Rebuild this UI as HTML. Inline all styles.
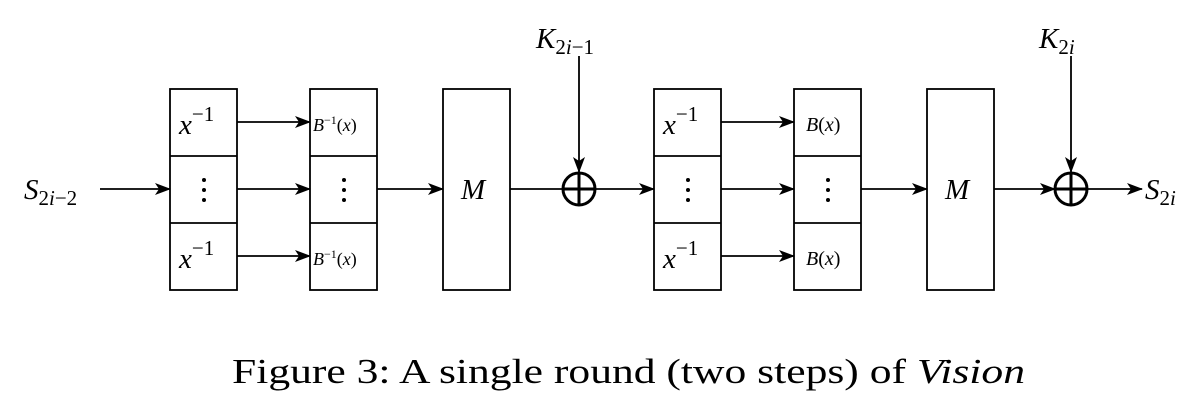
<!DOCTYPE html>
<html><head><style>
body{margin:0;background:#fff;width:1202px;height:414px;overflow:hidden}
</style></head><body>
<svg width="1202" height="414" viewBox="0 0 1202 414" xmlns="http://www.w3.org/2000/svg" font-family="'Liberation Serif', serif">
<defs><marker id="a" markerWidth="16" markerHeight="12" refX="15" refY="6" orient="auto" markerUnits="userSpaceOnUse"><path d="M0,0 L16,6 L0,12 L4,6 Z" fill="#000"/></marker></defs>
<g fill="none" stroke="#000" stroke-width="1.8">
<rect x="170" y="89" width="67" height="201"/><line x1="170" y1="156" x2="237" y2="156"/><line x1="170" y1="223" x2="237" y2="223"/>
<rect x="310" y="89" width="67" height="201"/><line x1="310" y1="156" x2="377" y2="156"/><line x1="310" y1="223" x2="377" y2="223"/>
<rect x="443" y="89" width="67" height="201"/>
<rect x="654" y="89" width="67" height="201"/><line x1="654" y1="156" x2="721" y2="156"/><line x1="654" y1="223" x2="721" y2="223"/>
<rect x="794" y="89" width="67" height="201"/><line x1="794" y1="156" x2="861" y2="156"/><line x1="794" y1="223" x2="861" y2="223"/>
<rect x="927" y="89" width="67" height="201"/>
<line x1="100" y1="189" x2="170" y2="189" marker-end="url(#a)"/>
<line x1="237" y1="122" x2="310" y2="122" marker-end="url(#a)"/>
<line x1="237" y1="189" x2="310" y2="189" marker-end="url(#a)"/>
<line x1="237" y1="256" x2="310" y2="256" marker-end="url(#a)"/>
<line x1="377" y1="189" x2="443" y2="189" marker-end="url(#a)"/>
<line x1="510" y1="189" x2="654" y2="189" marker-end="url(#a)"/>
<line x1="721" y1="122" x2="794" y2="122" marker-end="url(#a)"/>
<line x1="721" y1="189" x2="794" y2="189" marker-end="url(#a)"/>
<line x1="721" y1="256" x2="794" y2="256" marker-end="url(#a)"/>
<line x1="861" y1="189" x2="927" y2="189" marker-end="url(#a)"/>
<line x1="994" y1="189" x2="1055" y2="189" marker-end="url(#a)"/>
<line x1="1071" y1="189" x2="1142" y2="189" marker-end="url(#a)"/>
<line x1="579" y1="56" x2="579" y2="172" marker-end="url(#a)"/>
<line x1="1071" y1="56" x2="1071" y2="172" marker-end="url(#a)"/>
</g>
<g fill="none" stroke="#000" stroke-width="3">
<circle cx="579" cy="189" r="16" fill="#fff"/><line x1="563" y1="189" x2="595" y2="189"/><line x1="579" y1="173" x2="579" y2="205"/>
<circle cx="1071" cy="189" r="16" fill="#fff"/><line x1="1055" y1="189" x2="1087" y2="189"/><line x1="1071" y1="173" x2="1071" y2="205"/>
</g>
<g font-size="29" font-style="italic" font-family="'Liberation Serif', serif">
<text x="24" y="199">S<tspan font-size="21" font-style="normal" dy="6">2<tspan font-style="italic">i</tspan>−2</tspan></text>
<text x="536" y="48">K<tspan font-size="21" font-style="normal" dy="6">2<tspan font-style="italic">i</tspan>−1</tspan></text>
<text x="1039" y="48">K<tspan font-size="21" font-style="normal" dy="6">2<tspan font-style="italic">i</tspan></tspan></text>
<text x="1145" y="199">S<tspan font-size="21" font-style="normal" dy="6">2<tspan font-style="italic">i</tspan></tspan></text>
<text x="461" y="199">M</text><text x="945" y="199">M</text>
</g>
<g font-size="29" font-family="'Liberation Serif', serif">
<text x="179" y="134" font-style="italic">x<tspan font-style="normal" font-size="21" dy="-13">−1</tspan></text>
<text x="179" y="268" font-style="italic">x<tspan font-style="normal" font-size="21" dy="-13">−1</tspan></text>
<text x="663" y="134" font-style="italic">x<tspan font-style="normal" font-size="21" dy="-13">−1</tspan></text>
<text x="663" y="268" font-style="italic">x<tspan font-style="normal" font-size="21" dy="-13">−1</tspan></text>
<text x="313" y="131" font-size="18"><tspan font-style="italic">B</tspan><tspan font-size="12" dy="-7">−1</tspan><tspan dy="7">(</tspan><tspan font-style="italic">x</tspan>)</text>
<text x="313" y="265" font-size="18"><tspan font-style="italic">B</tspan><tspan font-size="12" dy="-7">−1</tspan><tspan dy="7">(</tspan><tspan font-style="italic">x</tspan>)</text>
<text x="806" y="131" font-size="20"><tspan font-style="italic">B</tspan>(<tspan font-style="italic">x</tspan>)</text>
<text x="806" y="265" font-size="20"><tspan font-style="italic">B</tspan>(<tspan font-style="italic">x</tspan>)</text>
</g>
<g fill="#000">
<circle cx="204" cy="180" r="2"/><circle cx="204" cy="190" r="2"/><circle cx="204" cy="200" r="2"/>
<circle cx="344" cy="180" r="2"/><circle cx="344" cy="190" r="2"/><circle cx="344" cy="200" r="2"/>
<circle cx="688" cy="180" r="2"/><circle cx="688" cy="190" r="2"/><circle cx="688" cy="200" r="2"/>
<circle cx="828" cy="180" r="2"/><circle cx="828" cy="190" r="2"/><circle cx="828" cy="200" r="2"/>
</g>
<text x="232" y="383" font-size="35" font-family="'Liberation Serif', serif" textLength="793" lengthAdjust="spacingAndGlyphs">Figure 3: A single round (two steps) of <tspan font-style="italic">Vision</tspan></text>
</svg>
</body></html>
